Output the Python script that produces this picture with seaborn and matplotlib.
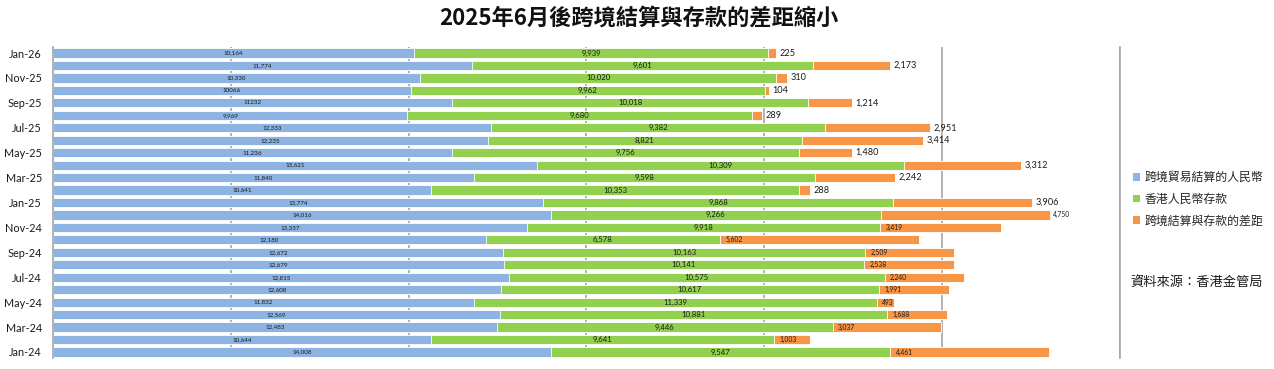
import numpy as np
import pandas as pd
import matplotlib
matplotlib.use("Agg")
import matplotlib.pyplot as plt
import seaborn as sns
from matplotlib.patches import Patch

# ---------------- data (Jan-24 .. Jan-26) ----------------
months = ["Jan-24", "Feb-24", "Mar-24", "Apr-24", "May-24", "Jun-24", "Jul-24",
          "Aug-24", "Sep-24", "Oct-24", "Nov-24", "Dec-24", "Jan-25", "Feb-25",
          "Mar-25", "Apr-25", "May-25", "Jun-25", "Jul-25", "Aug-25", "Sep-25",
          "Oct-25", "Nov-25", "Dec-25", "Jan-26"]
settlement = [14008, 10644, 12483, 12569, 11832, 12608, 12815, 12679, 12672, 12180,
              13337, 14016, 13774, 10641, 11840, 13621, 11236, 12235, 12333, 9969,
              11232, 10066, 10330, 11774, 10164]
deposits = [9547, 9641, 9446, 10881, 11339, 10617, 10575, 10141, 10163, 6578,
            9918, 9266, 9868, 10353, 9598, 10309, 9756, 8821, 9382, 9680,
            10018, 9962, 10020, 9601, 9939]
gap = [4461, 1003, 3037, 1688, 493, 1991, 2240, 2538, 2509, 5602,
       3419, 4750, 3906, 288, 2242, 3312, 1480, 3414, 2951, 289,
       1214, 104, 310, 2173, 225]
settlement_labels = ["14,008", "10,644", "12,483", "12,569", "11,832", "12,608", "12,815",
                     "12,679", "12,672", "12,180", "13,337", "14,016", "13,774", "10,641",
                     "11,840", "13,621", "11,236", "12,235", "12,333", "9,969", "11232",
                     "10066", "10,330", "11,774", "10,164"]
deposit_labels = [f"{v:,}" for v in deposits]
gap_labels = [f"{v:,}" for v in gap]

series_names = ["跨境貿易結算的人民幣", "香港人民幣存款", "跨境結算與存款的差距"]
title = "2025年6月後跨境結算與存款的差距縮小"
source = "資料來源：香港金管局"

# ---------------- style ----------------
sns.set_theme(style="white")
plt.rcParams["font.family"] = ["Lato", "Noto Sans CJK TC", "DejaVu Sans"]
CJK = ["Noto Sans CJK TC", "DejaVu Sans"]

blue, green, orange = "#8DB3E2", "#92D050", "#F79646"
grid_c = "#A6A6A6"
txt_c = "#1a1a1a"

W, H = 1274, 369
fig = plt.figure(figsize=(W / 100, H / 100), dpi=100)
ax = fig.add_axes([53 / W, 1 - 358.2 / H, (1119.5 - 53) / W, (358.2 - 46.8) / H])

df = pd.DataFrame({"month": months, "s": settlement, "d": deposits, "g": gap})
df["sd"] = df["s"] + df["d"]
df["total"] = df["sd"] + df["g"]
order = months[::-1]

common = dict(data=df, y="month", order=order, orient="y", width=0.74,
              edgecolor="white", linewidth=0.6, saturation=1, ax=ax, zorder=2)
sns.barplot(x="total", color=orange, **common)
sns.barplot(x="sd", color=green, **common)
sns.barplot(x="s", color=blue, **common)

ax.set_xlim(0, 30000)
ax.set_ylim(len(order) - 0.5, -0.5)
ax.set_xticks(np.arange(0, 30001, 5000))
ax.set_xticklabels([])
ax.set_xlabel("")
ax.set_ylabel("")
ax.set_yticks(range(len(order)))
ax.set_yticklabels([m if i % 2 == 0 else "" for i, m in enumerate(order)],
                   fontsize=7.8, color=txt_c)
ax.tick_params(axis="both", length=0)
ax.tick_params(axis="y", pad=8)
ax.grid(axis="x", color=grid_c, lw=1.2)
ax.grid(axis="y", visible=False)
ax.set_axisbelow(True)
for side in ["top", "bottom"]:
    ax.spines[side].set_visible(False)
for side in ["left", "right"]:
    ax.spines[side].set_color(grid_c)
    ax.spines[side].set_linewidth(1.2)

# ---------------- data labels ----------------
for k, m in enumerate(months):
    yi = order.index(m)
    s, d, g = settlement[k], deposits[k], gap[k]
    ax.text(s / 2, yi, settlement_labels[k], ha="center", va="center",
            fontsize=4.5, color=txt_c, zorder=5)
    ax.text(s + d / 2, yi, deposit_labels[k], ha="center", va="center",
            fontsize=5.6, color=txt_c, zorder=5)
    if k <= 10:
        ax.annotate(gap_labels[k], (s + d, yi), xytext=(4, 0), textcoords="offset points",
                    ha="left", va="center", fontsize=4.9, color=txt_c, zorder=5)
    elif k == 11:
        ax.annotate(gap_labels[k], (s + d + g, yi), xytext=(2.5, 0), textcoords="offset points",
                    ha="left", va="center", fontsize=4.9, color=txt_c, zorder=5)
    else:
        ax.annotate(gap_labels[k], (s + d + g, yi), xytext=(2.5, 0), textcoords="offset points",
                    ha="left", va="center", fontsize=6.6, color=txt_c, zorder=5)

# ---------------- title, legend, source ----------------
fig.text(639 / W, 1 - 18 / H, title, ha="center", va="center", fontsize=16,
         fontweight="bold", family=CJK, color="#111111")

handles = [Patch(facecolor=c, edgecolor="none") for c in (blue, green, orange)]
fig.legend(handles, series_names, loc="upper left",
           bbox_to_anchor=(1133 / W, 1 - 171 / H), frameon=False,
           prop={"family": CJK, "size": 8.6}, handlelength=0.6, handleheight=0.6,
           handletextpad=0.4, labelspacing=0.72, borderpad=0, borderaxespad=0)

fig.text(1130 / W, 1 - 282 / H, source, ha="left", va="center", fontsize=9.5,
         family=CJK, color=txt_c)

fig.savefig("out.png", dpi=100)
